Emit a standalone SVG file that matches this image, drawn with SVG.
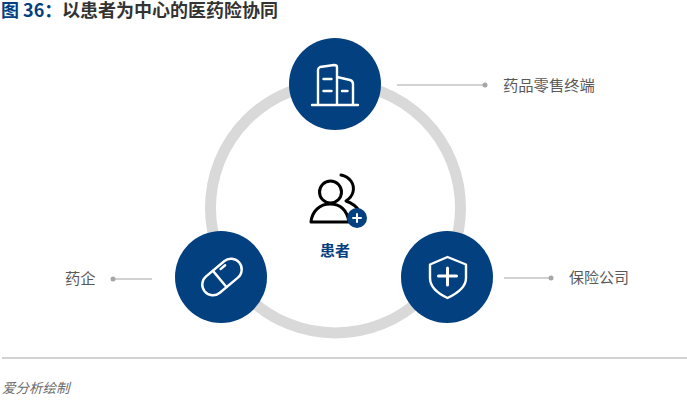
<svg xmlns="http://www.w3.org/2000/svg" width="687" height="400" viewBox="0 0 687 400">
<style>
.t{font-family:"Noto Sans CJK SC","Liberation Sans",sans-serif}
.lab{font-size:15.3px;fill:#595959}
.disc{fill:#02407f}
.ic{fill:none;stroke:#fff;stroke-width:2.4;stroke-linecap:round;stroke-linejoin:round}
.plus{stroke-width:3}
.lead{fill:none;stroke:#a6a6a6;stroke-width:1.2}
.dot{fill:#a6a6a6}
.blk{fill:none;stroke:#000;stroke-width:3;stroke-linecap:round;stroke-linejoin:round}
</style>
<rect width="687" height="400" fill="#fff"/>
<text class="t" x="1" y="17" font-size="18" font-weight="700" fill="#02407f">图 36：</text>
<text class="t" x="62" y="17" font-size="18" font-weight="700" fill="#333">以患者为中心的医药险协同</text>
<g id="connectors">
<circle cx="335.5" cy="208" r="125" fill="none" stroke="#d9d9d9" stroke-width="11"/>
<path class="lead" d="M397 85H485"/><circle class="dot" cx="485" cy="85" r="2.5"/>
<path class="lead" d="M152 279H113"/><circle class="dot" cx="113" cy="279" r="2.5"/>
<path class="lead" d="M504 278H551"/><circle class="dot" cx="551" cy="278" r="2.5"/>
</g>
<g id="pharmacy">
<circle class="disc" cx="335" cy="84" r="46"/>
<path class="ic" d="M318 105V70Q318 68 320 67L334 65Q337 65 337 67V105M337 77L350 80Q353 81 353 84V105M312 105H358"/>
<path class="ic" d="M323.500 79H331.500M323.500 91H331.500M342 91H347.500"/>
<text class="t lab" x="503" y="90.500">药品零售终端</text>
</g>
<g id="pharma">
<circle class="disc" cx="221" cy="277" r="46"/>
<g transform="rotate(-40 222 277)"><rect class="ic" x="199.500" y="266.300" width="45" height="21.400" rx="10.700"/><path class="ic" d="M219 266.500V287.500M226 270H232"/></g>
<text class="t lab" x="65" y="284">药企</text>
</g>
<g id="insurance">
<circle class="disc" cx="447" cy="277" r="46"/>
<path class="ic" d="M447.500 257L466 264.500V278C466 288 456 294 447.500 298C439 294 430 288 430 278V264.500Z"/>
<path class="ic plus" d="M438.500 276H456.500M447.500 268V285"/>
<text class="t lab" x="569" y="283" style="font-size:15px">保险公司</text>
</g>
<g id="patient">
<circle class="blk" cx="330.500" cy="192" r="11"/>
<path class="blk" d="M311 222C312 211 320 204 330 204C340 204 347 210 349 222Z"/>
<path class="blk" d="M341 175C350 177 355 184 353 192C352 196 349 199 346 201C352 203 357 207 360 212"/>
<circle class="disc" cx="357" cy="218" r="10"/>
<path d="M353 218H361M357 214V222" stroke="#fff" stroke-width="2" stroke-linecap="round"/>
<text class="t" x="320" y="256" font-size="15" font-weight="700" fill="#02407f">患者</text>
</g>
<path d="M2 358H687" stroke="#c4c4c4" stroke-width="1.3"/>
<text class="t" x="2" y="393" font-size="13.500" font-style="italic" fill="#6b6b6b">爱分析绘制</text>
</svg>
